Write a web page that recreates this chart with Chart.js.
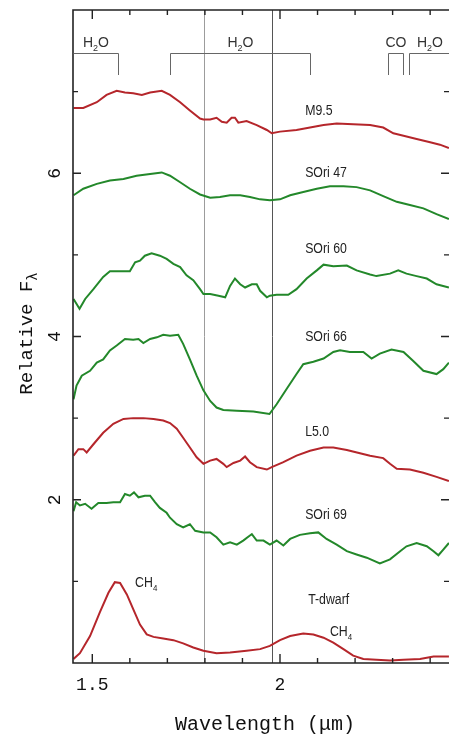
<!DOCTYPE html>
<html>
<head>
<meta charset="utf-8">
<script src="https://cdn.jsdelivr.net/npm/chart.js@4.4.0/dist/chart.umd.min.js"></script>
<style>
    body { margin: 0; background: #fff; }
    #wrap { position: relative; width: 449px; height: 738px; }
</style>
</head>
<body>
<div id="wrap"><canvas id="chart"></canvas></div>
<script>
// Spectra (wavelength in micron, relative flux)
const m95Wave = [1.450, 1.476, 1.512, 1.538, 1.565, 1.587, 1.609, 1.632, 1.654, 1.685, 1.707, 1.734, 1.760, 1.787, 1.796, 1.814, 1.831, 1.845, 1.858, 1.871, 1.880, 1.889, 1.911, 1.938, 1.965, 1.978, 2.000, 2.044, 2.080, 2.116, 2.151, 2.195, 2.240, 2.275, 2.302, 2.329, 2.364, 2.400, 2.426, 2.450];
const m95Flux = [6.80, 6.80, 6.87, 6.96, 7.01, 6.99, 6.98, 6.96, 6.99, 7.01, 6.96, 6.87, 6.77, 6.67, 6.66, 6.66, 6.68, 6.63, 6.62, 6.68, 6.68, 6.62, 6.64, 6.59, 6.53, 6.49, 6.51, 6.53, 6.56, 6.59, 6.61, 6.60, 6.59, 6.56, 6.49, 6.46, 6.42, 6.38, 6.35, 6.31];

const sori47Wave = [1.450, 1.476, 1.512, 1.547, 1.583, 1.618, 1.654, 1.685, 1.707, 1.734, 1.760, 1.787, 1.814, 1.840, 1.867, 1.894, 1.920, 1.947, 1.973, 2.000, 2.027, 2.062, 2.098, 2.133, 2.169, 2.204, 2.240, 2.275, 2.311, 2.346, 2.382, 2.417, 2.450];
const sori47Flux = [5.73, 5.81, 5.87, 5.91, 5.93, 5.97, 5.99, 6.01, 5.97, 5.89, 5.81, 5.74, 5.70, 5.71, 5.73, 5.73, 5.71, 5.68, 5.67, 5.68, 5.73, 5.77, 5.81, 5.84, 5.84, 5.83, 5.79, 5.72, 5.65, 5.61, 5.57, 5.50, 5.44];

const sori60Wave = [1.450, 1.466, 1.481, 1.503, 1.529, 1.547, 1.574, 1.600, 1.614, 1.627, 1.640, 1.658, 1.680, 1.698, 1.716, 1.734, 1.751, 1.769, 1.787, 1.796, 1.814, 1.836, 1.854, 1.867, 1.880, 1.894, 1.907, 1.925, 1.938, 1.947, 1.965, 1.973, 1.991, 2.022, 2.044, 2.071, 2.098, 2.116, 2.142, 2.178, 2.204, 2.240, 2.257, 2.293, 2.315, 2.337, 2.364, 2.391, 2.417, 2.450];
const sori60Flux = [4.46, 4.34, 4.46, 4.58, 4.73, 4.80, 4.80, 4.80, 4.91, 4.93, 4.99, 5.02, 4.99, 4.95, 4.89, 4.85, 4.75, 4.69, 4.58, 4.52, 4.52, 4.50, 4.48, 4.62, 4.71, 4.64, 4.60, 4.64, 4.64, 4.56, 4.48, 4.50, 4.51, 4.51, 4.58, 4.71, 4.81, 4.88, 4.86, 4.87, 4.81, 4.76, 4.74, 4.77, 4.81, 4.77, 4.74, 4.71, 4.64, 4.60];

const sori66Wave = [1.450, 1.458, 1.472, 1.494, 1.512, 1.529, 1.547, 1.565, 1.587, 1.609, 1.623, 1.636, 1.654, 1.672, 1.689, 1.707, 1.729, 1.742, 1.760, 1.778, 1.796, 1.814, 1.831, 1.849, 1.885, 1.929, 1.972, 1.991, 2.018, 2.044, 2.062, 2.089, 2.116, 2.142, 2.160, 2.186, 2.222, 2.244, 2.266, 2.297, 2.329, 2.355, 2.382, 2.417, 2.435, 2.450];
const sori66Flux = [3.23, 3.40, 3.52, 3.58, 3.68, 3.72, 3.83, 3.89, 3.97, 3.96, 3.97, 3.92, 3.97, 3.99, 4.02, 4.01, 4.02, 3.91, 3.72, 3.52, 3.34, 3.21, 3.13, 3.10, 3.09, 3.08, 3.05, 3.17, 3.36, 3.54, 3.66, 3.69, 3.73, 3.81, 3.83, 3.81, 3.81, 3.73, 3.79, 3.84, 3.81, 3.70, 3.58, 3.54, 3.60, 3.68];

const l50Wave = [1.450, 1.463, 1.476, 1.485, 1.503, 1.529, 1.556, 1.583, 1.609, 1.636, 1.663, 1.689, 1.707, 1.725, 1.742, 1.760, 1.778, 1.796, 1.814, 1.831, 1.849, 1.858, 1.876, 1.894, 1.907, 1.920, 1.938, 1.965, 1.978, 2.009, 2.044, 2.080, 2.116, 2.142, 2.178, 2.213, 2.240, 2.275, 2.293, 2.311, 2.346, 2.382, 2.417, 2.450];
const l50Flux = [2.54, 2.62, 2.62, 2.58, 2.68, 2.82, 2.93, 2.99, 3.00, 3.00, 2.99, 2.97, 2.94, 2.87, 2.76, 2.64, 2.52, 2.44, 2.48, 2.50, 2.44, 2.40, 2.45, 2.48, 2.53, 2.46, 2.40, 2.37, 2.40, 2.46, 2.54, 2.60, 2.64, 2.64, 2.61, 2.57, 2.54, 2.51, 2.44, 2.38, 2.37, 2.33, 2.28, 2.23];

const sori69Wave = [1.450, 1.457, 1.467, 1.481, 1.498, 1.516, 1.538, 1.556, 1.574, 1.587, 1.600, 1.611, 1.623, 1.640, 1.654, 1.667, 1.680, 1.698, 1.707, 1.725, 1.742, 1.760, 1.774, 1.796, 1.814, 1.831, 1.849, 1.867, 1.885, 1.902, 1.925, 1.938, 1.956, 1.973, 1.991, 2.009, 2.027, 2.053, 2.080, 2.102, 2.124, 2.151, 2.178, 2.204, 2.231, 2.266, 2.293, 2.320, 2.337, 2.364, 2.391, 2.409, 2.422, 2.435, 2.450];
const sori69Flux = [1.86, 1.97, 1.93, 1.95, 1.89, 1.96, 1.96, 1.97, 1.97, 2.07, 2.05, 2.09, 2.03, 2.05, 2.05, 1.97, 1.90, 1.84, 1.78, 1.70, 1.66, 1.70, 1.62, 1.60, 1.60, 1.54, 1.45, 1.48, 1.45, 1.50, 1.58, 1.50, 1.50, 1.45, 1.50, 1.44, 1.52, 1.57, 1.59, 1.60, 1.52, 1.45, 1.37, 1.33, 1.29, 1.22, 1.27, 1.37, 1.43, 1.47, 1.43, 1.37, 1.32, 1.39, 1.47];

const tdwarfWave = [1.450, 1.467, 1.494, 1.520, 1.543, 1.560, 1.574, 1.592, 1.609, 1.627, 1.645, 1.663, 1.689, 1.716, 1.742, 1.769, 1.796, 1.831, 1.867, 1.911, 1.947, 1.973, 2.000, 2.027, 2.062, 2.089, 2.116, 2.142, 2.169, 2.195, 2.222, 2.257, 2.293, 2.329, 2.373, 2.409, 2.450];
const tdwarfFlux = [0.05, 0.12, 0.33, 0.62, 0.86, 0.99, 0.98, 0.84, 0.66, 0.47, 0.35, 0.32, 0.30, 0.28, 0.24, 0.19, 0.15, 0.12, 0.13, 0.15, 0.17, 0.21, 0.28, 0.33, 0.36, 0.35, 0.31, 0.25, 0.17, 0.09, 0.05, 0.04, 0.03, 0.04, 0.05, 0.08, 0.08];

const seriesNames = ['M9.5', 'SOri 47', 'SOri 60', 'SOri 66', 'L5.0', 'SOri 69', 'T-dwarf'];
const seriesWaves = [m95Wave, sori47Wave, sori60Wave, sori66Wave, l50Wave, sori69Wave, tdwarfWave];
const seriesFluxes = [m95Flux, sori47Flux, sori60Flux, sori66Flux, l50Flux, sori69Flux, tdwarfFlux];
const seriesKind = ['field', 'cluster', 'cluster', 'cluster', 'field', 'cluster', 'field'];

// where each name sits (wavelength, flux)
const nameWave = [2.067, 2.067, 2.067, 2.067, 2.067, 2.067, 2.075];
const nameFlux = [6.78, 6.02, 5.09, 4.01, 2.84, 1.83, 0.79];

// CH4 features on the T-dwarf
const ch4Wave = [1.614, 2.133];
const ch4Flux = [0.99, 0.39];

// absorption bands along the top
const bandStart = [1.449, 1.707, 2.2885, 2.343];
const bandEnd = [1.568, 2.080, 2.3285, 2.470];
const bandLabel = ['H2O', 'H2O', 'CO', 'H2O'];

// the two vertical reference lines
const refLines = [1.797, 1.978];

const xTicks = [1.5, 1.6, 1.7, 1.8, 1.9, 2.0, 2.1, 2.2, 2.3, 2.4];
const xLabels = { 1.5: '1.5', 2: '2' };
const yTicks = [1, 2, 3, 4, 5, 6, 7];
const yLabels = { 2: '2', 4: '4', 6: '6' };

const RED = '#b5262b';
const GREEN = '#23882a';
const MONO = "'Liberation Mono', 'DejaVu Sans Mono', monospace";
const SANS = "'Liberation Sans', Arial, sans-serif";

const datasets = seriesNames.map((name, i) => ({
    label: name,
    data: seriesWaves[i].map((w, j) => ({ x: w, y: seriesFluxes[i][j] })),
    borderColor: seriesKind[i] === 'field' ? RED : GREEN,
    borderWidth: 2,
    showLine: true,
    pointRadius: 0,
    fill: false
}));

// text with a subscript piece: parts = [text, size, dy]
function richText(ctx, parts, x, y, align, family) {
    let w = 0;
    parts.forEach(p => { ctx.font = p[1] + 'px ' + family; w += ctx.measureText(p[0]).width; });
    let cx = align === 'center' ? x - w / 2 : x;
    ctx.textAlign = 'left';
    parts.forEach(p => {
        ctx.font = p[1] + 'px ' + family;
        ctx.fillText(p[0], cx, y + p[2]);
        cx += ctx.measureText(p[0]).width;
    });
}

function narrowText(ctx, text, x, y) {
    ctx.save();
    ctx.translate(x, y);
    ctx.scale(0.88, 1);
    ctx.fillText(text, 0, 0);
    ctx.restore();
}

const decor = {
    id: 'decor',
    beforeDatasetsDraw(chart) {
        const { ctx, chartArea: a, scales: { x } } = chart;
        ctx.save();
        refLines.forEach((w, i) => {
            const px = Math.round(x.getPixelForValue(w)) + 0.5;
            ctx.strokeStyle = i === 0 ? '#9c9c9c' : '#555';
            ctx.lineWidth = 1;
            ctx.beginPath();
            ctx.moveTo(px, a.top);
            ctx.lineTo(px, a.bottom);
            ctx.stroke();
        });
        ctx.restore();
    },
    afterDraw(chart) {
        const { ctx, chartArea: a, scales: { x, y } } = chart;
        ctx.save();

        // frame
        ctx.strokeStyle = '#222';
        ctx.lineWidth = 1.6;
        ctx.beginPath();
        ctx.moveTo(a.right + 2, a.top);
        ctx.lineTo(a.left, a.top);
        ctx.lineTo(a.left, a.bottom);
        ctx.lineTo(a.right + 2, a.bottom);
        ctx.stroke();

        // inward ticks
        ctx.lineWidth = 1.4;
        xTicks.forEach(t => {
            const px = x.getPixelForValue(t);
            const len = xLabels[t] ? 9 : 5;
            ctx.beginPath();
            ctx.moveTo(px, a.bottom); ctx.lineTo(px, a.bottom - len);
            ctx.moveTo(px, a.top); ctx.lineTo(px, a.top + len);
            ctx.stroke();
        });
        yTicks.forEach(t => {
            const py = y.getPixelForValue(t);
            const len = yLabels[t] ? 8 : 5;
            ctx.beginPath();
            ctx.moveTo(a.left, py); ctx.lineTo(a.left + len, py);
            ctx.moveTo(a.right, py); ctx.lineTo(a.right - len, py);
            ctx.stroke();
        });

        // tick labels
        ctx.fillStyle = '#111';
        ctx.font = '18px ' + MONO;
        ctx.textAlign = 'center';
        ctx.textBaseline = 'middle';
        xTicks.forEach(t => {
            if (xLabels[t]) ctx.fillText(xLabels[t], x.getPixelForValue(t), a.bottom + 22);
        });
        yTicks.forEach(t => {
            if (!yLabels[t]) return;
            ctx.save();
            ctx.translate(a.left - 18, y.getPixelForValue(t));
            ctx.rotate(-Math.PI / 2);
            ctx.fillText(yLabels[t], 0, 0);
            ctx.restore();
        });

        // axis titles
        ctx.textBaseline = 'alphabetic';
        richText(ctx, [['Wavelength (', 20, 0], ['\u03bc', 20, 0], ['m)', 20, 0]], 265, 730, 'center', MONO);
        ctx.save();
        ctx.translate(32, (a.top + a.bottom) / 2 - 3);
        ctx.rotate(-Math.PI / 2);
        richText(ctx, [['Relative F', 19, 0], ['\u03bb', 14, 5]], 0, 0, 'center', MONO);
        ctx.restore();

        // band brackets
        ctx.strokeStyle = '#666';
        ctx.lineWidth = 1;
        const yBar = 53.5, yFoot = 75;
        bandLabel.forEach((lab, i) => {
            const x0 = Math.round(x.getPixelForValue(bandStart[i])) + 0.5;
            const x1 = Math.round(x.getPixelForValue(bandEnd[i])) + 0.5;
            ctx.beginPath();
            if (i > 0) { ctx.moveTo(x0, yFoot); ctx.lineTo(x0, yBar); } else { ctx.moveTo(x0, yBar); }
            ctx.lineTo(x1, yBar);
            ctx.lineTo(x1, yFoot);
            ctx.stroke();
            const cx = Math.min((x0 + x1) / 2, 430);
            ctx.fillStyle = '#333';
            if (lab === 'H2O') {
                richText(ctx, [['H', 14, 0], ['2', 9, 4], ['O', 14, 0]], cx, 47, 'center', SANS);
            } else {
                richText(ctx, [[lab, 14, 0]], cx, 47, 'center', SANS);
            }
        });

        // series names
        ctx.fillStyle = '#222';
        ctx.font = '14px ' + SANS;
        ctx.textAlign = 'left';
        seriesNames.forEach((name, i) => {
            narrowText(ctx, name, x.getPixelForValue(nameWave[i]), y.getPixelForValue(nameFlux[i]) + 5);
        });
        ch4Wave.forEach((w, i) => {
            ctx.save();
            ctx.translate(x.getPixelForValue(w), y.getPixelForValue(ch4Flux[i]) + 5);
            ctx.scale(0.88, 1);
            richText(ctx, [['CH', 14, 0], ['4', 9, 4]], 0, 0, 'left', SANS);
            ctx.restore();
        });

        ctx.restore();
    }
};

new Chart(document.getElementById('chart'), {
    type: 'scatter',
    data: { datasets: datasets },
    options: {
        responsive: true,
        maintainAspectRatio: false,
        animation: false,
        layout: { padding: { left: 73, top: 10, right: 0, bottom: 75 } },
        plugins: { legend: { display: false }, tooltip: { enabled: false } },
        scales: {
            x: { type: 'linear', min: 1.4486, max: 2.4502, display: false },
            y: { type: 'linear', min: 0, max: 8, display: false }
        }
    },
    plugins: [decor]
});
</script>
</body>
</html>
